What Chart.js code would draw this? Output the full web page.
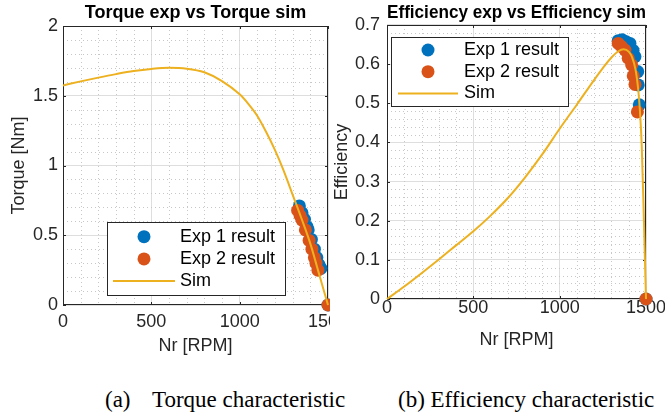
<!DOCTYPE html>
<html>
<head>
<meta charset="utf-8">
<title>Torque and efficiency characteristics</title>
<script src="https://cdn.jsdelivr.net/npm/chart.js@4.4.1/dist/chart.umd.min.js"></script>
<style>
  html, body { margin: 0; padding: 0; background: #fff; }
  body { width: 665px; height: 417px; position: relative; overflow: hidden; }
  .panel { position: absolute; top: 0; height: 360px; overflow: hidden; }
  #leftPanel { left: 0; width: 330px; }
  #rightPanel { left: 330px; width: 335px; }
  .caption {
    position: absolute; top: 388px; white-space: nowrap; color: #000;
    font: 23px/23px "Liberation Serif", "Times New Roman", serif;
  }
</style>
</head>
<body>
<div class="panel" id="leftPanel"><canvas id="torqueChart" width="345" height="360"></canvas></div>
<div class="panel" id="rightPanel"><canvas id="effChart" width="335" height="360"></canvas></div>
<div class="caption" style="left:105px">(a)</div>
<div class="caption" style="left:152px">Torque characteristic</div>
<div class="caption" style="left:398px">(b) Efficiency characteristic</div>

<script>
  // ---- values ----
  const rpmTicks = [0, 500, 1000, 1500];
  const torqueTicks = [0, 0.5, 1, 1.5, 2];
  const effTicks = [0, 0.1, 0.2, 0.3, 0.4, 0.5, 0.6, 0.7];

  // simulated torque curve
  const simTorqueRpm = [0, 100, 200, 300, 400, 500, 600, 700, 800, 900, 1000, 1050, 1100,
    1150, 1200, 1250, 1300, 1350, 1400, 1450, 1500];
  const simTorque = [1.574, 1.603, 1.630, 1.655, 1.677, 1.692, 1.700, 1.694, 1.668, 1.605,
    1.510, 1.440, 1.355, 1.240, 1.110, 0.960, 0.790, 0.620, 0.440, 0.220, 0];

  // measured torque
  const exp1TorqueRpm = [1338, 1353, 1367, 1382, 1388, 1406, 1423, 1437, 1449, 1460, 1500];
  const exp1Torque = [0.710, 0.660, 0.614, 0.560, 0.538, 0.470, 0.400, 0.340, 0.290, 0.263, 0];
  const exp2TorqueRpm = [1328, 1342, 1353, 1372, 1393, 1409, 1423, 1432, 1443, 1500];
  const exp2Torque = [0.678, 0.640, 0.609, 0.538, 0.463, 0.400, 0.340, 0.300, 0.250, 0];

  // simulated efficiency curve
  const simEffRpm = [0, 100, 200, 300, 400, 500, 600, 700, 800, 900, 1000, 1100, 1200, 1250,
    1300, 1340, 1370, 1400, 1420, 1440, 1455, 1465, 1475, 1485, 1492, 1500];
  const simEff = [0, 0.032, 0.066, 0.101, 0.137, 0.173, 0.213, 0.258, 0.311, 0.370, 0.435,
    0.497, 0.560, 0.590, 0.617, 0.633, 0.638, 0.632, 0.617, 0.585, 0.535, 0.480, 0.395,
    0.250, 0.130, 0];

  // measured efficiency
  const exp1EffRpm = [1339, 1362, 1385, 1407, 1425, 1436, 1452, 1455, 1461, 1500];
  const exp1Eff = [0.660, 0.662, 0.657, 0.653, 0.635, 0.619, 0.581, 0.547, 0.496, 0];
  const exp2EffRpm = [1339, 1358, 1378, 1397, 1417, 1426, 1436, 1450, 1500];
  const exp2Eff = [0.653, 0.645, 0.636, 0.615, 0.598, 0.570, 0.548, 0.478, 0];

  const BLUE = "#0072BD";
  const ORANGE = "#D95319";
  const YELLOW = "#EDB120";
  const AXIS = "#262626";
  const FAMILY = '"Liberation Sans", Arial, Helvetica, sans-serif';

  function pts(xs, ys) {
    return xs.map((x, i) => ({ x, y: ys[i] }));
  }

  // MATLAB-like axes: dotted minor grid, box and inward ticks on all sides
  const matlabAxes = {
    id: "matlabAxes",
    beforeDatasetsDraw(chart, args, opts) {
      const { ctx, chartArea: a, scales } = chart;
      const x = scales.x, y = scales.y;
      ctx.save();
      ctx.lineWidth = 1;

      // minor grid
      ctx.strokeStyle = "#c8c8c8";
      ctx.setLineDash([1, 3]);
      const nx = Math.round((x.max - x.min) / opts.xMinor);
      for (let k = 1; k < nx; k++) {
        const v = x.min + k * opts.xMinor;
        if (x.ticks.some((t) => Math.abs(t.value - v) < 1e-9)) continue;
        const px = Math.round(x.getPixelForValue(v)) + 0.5;
        ctx.beginPath(); ctx.moveTo(px, a.top); ctx.lineTo(px, a.bottom); ctx.stroke();
      }
      const ny = Math.round((y.max - y.min) / opts.yMinor);
      for (let k = 1; k < ny; k++) {
        const v = y.min + k * opts.yMinor;
        if (y.ticks.some((t) => Math.abs(t.value - v) < 1e-9)) continue;
        const py = Math.round(y.getPixelForValue(v)) + 0.5;
        ctx.beginPath(); ctx.moveTo(a.left, py); ctx.lineTo(a.right, py); ctx.stroke();
      }
      ctx.setLineDash([]);

      // box
      ctx.strokeStyle = AXIS;
      ctx.strokeRect(a.left + 0.5, a.top + 0.5, a.width - 1, a.height - 1);

      // ticks
      const tl = opts.tickLen;
      ctx.beginPath();
      x.ticks.forEach((t) => {
        const px = Math.round(x.getPixelForValue(t.value)) + 0.5;
        ctx.moveTo(px, a.bottom); ctx.lineTo(px, a.bottom - tl);
        ctx.moveTo(px, a.top); ctx.lineTo(px, a.top + tl);
      });
      y.ticks.forEach((t) => {
        const py = Math.round(y.getPixelForValue(t.value)) + 0.5;
        ctx.moveTo(a.left, py); ctx.lineTo(a.left + tl, py);
        ctx.moveTo(a.right, py); ctx.lineTo(a.right - tl, py);
      });
      ctx.stroke();
      ctx.restore();
    },
  };

  // boxed legend placed inside the axes
  const boxLegend = {
    id: "boxLegend",
    afterDatasetsDraw(chart, args, o) {
      const ctx = chart.ctx;
      ctx.save();
      ctx.fillStyle = "#fff";
      ctx.fillRect(o.x, o.y, o.w, o.h);
      ctx.strokeStyle = AXIS;
      ctx.lineWidth = 1;
      ctx.strokeRect(o.x + 0.5, o.y + 0.5, o.w, o.h);
      ctx.font = "18px " + FAMILY;
      ctx.textBaseline = "middle";
      chart.data.datasets.forEach((ds, i) => {
        const cy = o.y + o.first + i * o.gap;
        if (ds.showLine) {
          ctx.strokeStyle = ds.borderColor;
          ctx.lineWidth = ds.borderWidth;
          ctx.beginPath();
          ctx.moveTo(o.lineX0, cy); ctx.lineTo(o.lineX1, cy);
          ctx.stroke();
        } else {
          ctx.fillStyle = ds.backgroundColor;
          ctx.beginPath();
          ctx.arc(o.markX, cy, ds.pointRadius, 0, Math.PI * 2);
          ctx.fill();
        }
        ctx.fillStyle = "#000";
        ctx.fillText(ds.label, o.textX, cy);
      });
      ctx.restore();
    },
  };

  function makeChart(canvasId, cfg) {
    const font = { family: FAMILY, size: 18 };
    return new Chart(document.getElementById(canvasId), {
      type: "scatter",
      data: {
        datasets: [
          {
            label: "Exp 1 result", data: pts(cfg.exp1X, cfg.exp1Y), order: 3,
            backgroundColor: BLUE, pointRadius: 6.5, borderWidth: 0, clip: false,
          },
          {
            label: "Exp 2 result", data: pts(cfg.exp2X, cfg.exp2Y), order: 2,
            backgroundColor: ORANGE, pointRadius: 6.5, borderWidth: 0, clip: false,
          },
          {
            label: "Sim", data: pts(cfg.simX, cfg.simY), order: 1, showLine: true,
            borderColor: YELLOW, borderWidth: 2, pointRadius: 0,
            cubicInterpolationMode: "monotone", fill: false, clip: false,
          },
        ],
      },
      options: {
        responsive: false,
        animation: false,
        events: [],
        devicePixelRatio: 1,
        layout: { padding: { left: 0, right: cfg.padRight, top: 0, bottom: 0 } },
        plugins: {
          legend: { display: false },
          tooltip: { enabled: false },
          title: {
            display: true, text: cfg.title, color: "#000", fullSize: false,
            font: { family: FAMILY, size: 18, weight: "bold" },
            padding: { top: 2.5, bottom: cfg.titleGap },
          },
          matlabAxes: { xMinor: 100, yMinor: cfg.yMinor, tickLen: 3 },
          boxLegend: cfg.legend,
        },
        scales: {
          x: {
            type: "linear", min: 0, max: 1500,
            afterBuildTicks: (s) => { s.ticks = rpmTicks.map((v) => ({ value: v })); },
            ticks: {
              font, color: AXIS, padding: cfg.xTickPad, maxRotation: 0, autoSkip: false,
              callback: (v) => String(v),
            },
            grid: { color: "#dedede", drawTicks: false },
            border: { display: false },
            title: {
              display: true, text: "Nr [RPM]", font, color: AXIS,
              padding: { top: 0, bottom: cfg.xTitlePad },
            },
            afterFit: (s) => { s.height = cfg.xHeight; s.paddingLeft = 0; s.paddingRight = 0; },
          },
          y: {
            type: "linear", min: 0, max: cfg.yMax,
            afterBuildTicks: (s) => { s.ticks = cfg.yTicks.map((v) => ({ value: v })); },
            ticks: { font, color: AXIS, padding: cfg.yTickPad, callback: (v) => String(v) },
            grid: { color: "#dedede", drawTicks: false },
            border: { display: false },
            title: {
              display: true, text: cfg.yTitle, font, color: AXIS,
              padding: { top: cfg.yTitlePad, bottom: 0 },
            },
            afterFit: (s) => { s.width = cfg.yWidth; s.paddingTop = 0; s.paddingBottom = 0; },
          },
        },
      },
      plugins: [matlabAxes, boxLegend],
    });
  }

  makeChart("torqueChart", {
    title: "Torque exp vs Torque sim",
    yTitle: "Torque [Nm]",
    yMax: 2, yTicks: torqueTicks, yMinor: 0.1,
    simX: simTorqueRpm, simY: simTorque,
    exp1X: exp1TorqueRpm, exp1Y: exp1Torque,
    exp2X: exp2TorqueRpm, exp2Y: exp2Torque,
    padRight: 17, titleGap: 1.9,
    yWidth: 63, yTickPad: 5, yTitlePad: 8.2,
    xHeight: 55, xTickPad: 6, xTitlePad: 3.2,
    legend: { x: 107, y: 222, w: 178, h: 73, first: 14.7, gap: 22.2,
      markX: 144, lineX0: 113, lineX1: 175, textX: 180 },
  });

  makeChart("effChart", {
    title: "Efficiency exp vs Efficiency sim",
    yTitle: "Efficiency",
    yMax: 0.7, yTicks: effTicks, yMinor: 0.02,
    simX: simEffRpm, simY: simEff,
    exp1X: exp1EffRpm, exp1Y: exp1Eff,
    exp2X: exp2EffRpm, exp2Y: exp2Eff,
    padRight: 19, titleGap: 0.9,
    yWidth: 57, yTickPad: 7, yTitlePad: 0.9,
    xHeight: 61, xTickPad: -2, xTitlePad: 9.2,
    legend: { x: 61, y: 37, w: 177, h: 69, first: 13, gap: 21.7,
      markX: 98, lineX0: 68, lineX1: 128, textX: 134 },
  });
</script>
</body>
</html>
